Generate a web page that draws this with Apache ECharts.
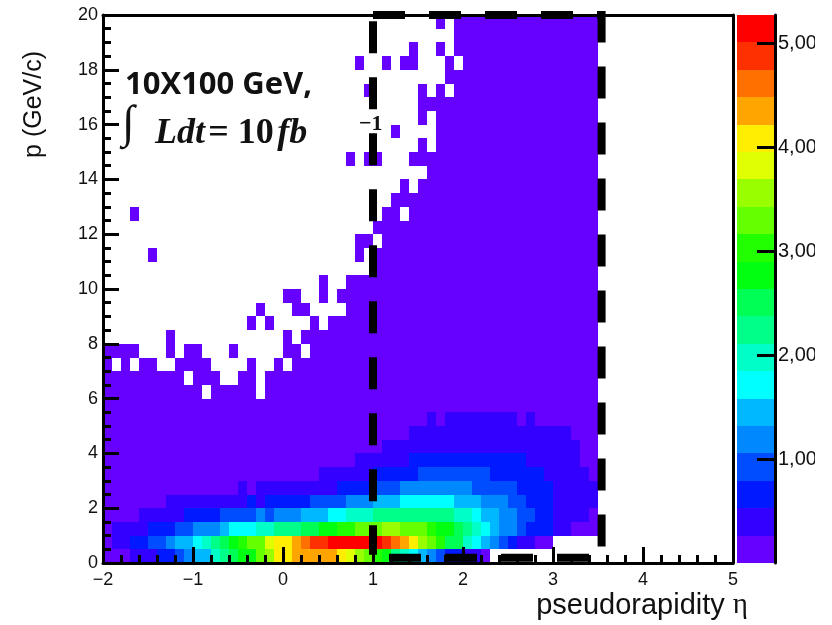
<!DOCTYPE html>
<html><head><meta charset="utf-8">
<style>html,body{margin:0;padding:0;background:#fff}#c{width:832px;height:625px}</style>
<script src="https://cdn.jsdelivr.net/npm/echarts@6/dist/echarts.min.js"></script>
</head><body><div id="c"></div>
<script>
// colour-bin level (base 36: 0 empty, 1..9, a=10 .. k=20) per eta bin; first entry is p 0-0.5 GeV/c
const levelRows = [
"1112223345 6689abbdeg ghhhhhgfed cb98765433 2210000000 00000",
"1223344566 789abcddfg ghijjkkkkk kjihgedcaa 8765432211 00000",
"1222233344 5556777889 99aabbccdd deedddcbba 9876554333 22111",
"1111222223 3334444545 5566677888 9999999998 8766554433 22221",
"1111111222 2222223233 3334444555 6667777776 6655544333 22222",
"1111111111 1111121222 2222223333 4445555555 5444443333 22222",
"1111111111 1111111111 1111222222 3333344444 4443333332 22221",
"1111111111 1111111111 1111111122 2222333333 3333333222 22211",
"1111111111 1111111111 1111111111 1222222222 2222222222 22211",
"1111111111 1111111111 1111111111 1111222222 2222222222 22111",
"1111111111 1111111111 1111111111 1111112122 2222221211 11111",
"1111111111 1111111111 1111111111 1111111111 1111111111 11111",
"1111111111 1011111011 1111111111 1111111111 1111111111 11111",
"1111111110 1110011011 1111111111 1111111111 1111111111 11111",
"1010110011 1100001001 0111111111 1111111111 1111111111 11111",
"1111000101 1000100000 1101111111 1111111111 1111111111 11111",
"0000000100 0000000000 1011111111 1111111111 1111111111 11111",
"0000000000 0000001010 0001011111 1111111111 1111111111 11111",
"0000000000 0000000100 0110000111 1111111111 1111111111 11111",
"0000000000 0000000000 1100101111 1111111111 1111111111 11111",
"0000000000 0000000000 0000100111 1111111111 1111111111 11111",
"0000000000 0000000000 0000000000 1111111111 1111111111 11111",
"0000010000 0000000000 0000000010 1111111111 1111111111 11111",
"0000000000 0000000000 0000000011 0111111111 1111111111 11111",
"0000000000 0000000000 0000000000 1111111111 1111111111 11111",
"0001000000 0000000000 0000000000 0110111111 1111111111 11111",
"0000000000 0000000000 0000000000 0011111111 1111111111 11111",
"0000000000 0000000000 0000000000 0001011111 1111111111 11111",
"0000000000 0000000000 0000000000 0000001111 1111111111 11111",
"0000000000 0000000000 0000000101 1000111111 1111111111 11111",
"0000000000 0000000000 0000000000 0000010111 1111111111 11111",
"0000000000 0000000000 0000000000 0010000111 1111111111 11111",
"0000000000 0000000000 0000000000 0000010111 1111111111 11111",
"0000000000 0000000000 0000000000 0000011111 1111111111 11111",
"0000000000 0000000000 0000000001 0000010101 1111111111 11111",
"0000000000 0000000000 0000000000 0000000011 1111111111 11111",
"0000000000 0000000000 0000000010 0101100010 1111111111 11111",
"0000000000 0000000000 0000000000 0000100101 1111111111 11111",
"0000000000 0000000000 0000000000 0000000001 1111111111 11111",
"0000000000 0000000000 0000000000 0000000101 1111111111 11111"
];
const palette = ["#6600ff","#3300ff","#0019ff","#004cff","#0088ff","#00b8ff","#00ffff","#00ffc8","#00ff88","#00ff55",
                 "#00ff10","#22ff00","#66ff00","#99ff00","#e0ff00","#ffee00","#ffa500","#ff7000","#ff3000","#ff0000"];
const etaStart = -2, etaBin = 0.1, pBin = 0.5;
const countMax = 5270;
const colorTicks = [1000,2000,3000,4000,5000];
const boxEta = [1, 3.54, 3.54, 1];
const boxP = [20, 20, 0.19, 0.19];
const leftEta = [1, 1];
const leftP = [19.77, 0.3];

const step = countMax / palette.length;
const cells = [];
levelRows.forEach((row, r) => {
  Array.from(row.replace(/ /g,'')).forEach((c, i) => {
    const lv = parseInt(c, 36);
    if (lv > 0) cells.push([+(etaStart + i*etaBin).toFixed(2), +(etaStart + (i+1)*etaBin).toFixed(2), r*pBin, (r+1)*pBin, (lv-0.5)*step]);
  });
});
const barCells = palette.map((_, i) => [0, 1, i*step, (i+1)*step, (i+0.5)*step]);
function rectItem(params, api) {
  const a = api.coord([api.value(0), api.value(3)]);
  const b = api.coord([api.value(1), api.value(2)]);
  const x = Math.round(a[0]), y = Math.round(a[1]);
  const lvl = Math.min(palette.length-1, Math.floor(api.value(4)/step));
  return {type:'rect', shape:{x:x, y:y, width:Math.round(b[0])-x, height:Math.round(b[1])-y}, style:{fill:palette[lvl]}};
}
const font = '"Liberation Sans"';
const black = '#000';
const chart = echarts.init(document.getElementById('c'), null, {renderer:'canvas'});
chart.setOption({
  animation:false,
  backgroundColor:'#fff',
  grid:[{left:103,top:15,width:630,height:548},{left:737,top:15,width:38,height:548}],
  xAxis:[
    {type:'value',gridIndex:0,min:-2,max:5,interval:1,z:10,
     name:'pseudorapidity {e|η}',nameLocation:'end',nameGap:15,
     nameTextStyle:{fontFamily:font,fontSize:29,color:'#111',align:'right',verticalAlign:'top',padding:[28,0,0,0],
       rich:{e:{fontFamily:'"Liberation Serif"',fontSize:29,color:'#111'}}},
     axisLine:{show:true,onZero:false,lineStyle:{color:black,width:3}},
     axisTick:{show:true,inside:true,length:16,lineStyle:{color:black,width:3}},
     minorTick:{show:true,splitNumber:5,length:8,lineStyle:{color:black,width:3}},
     splitLine:{show:false},
     axisLabel:{fontFamily:font,fontSize:18,color:'#111',margin:8,formatter:v=>String(v).replace('-','\u2212')}},
    {type:'value',gridIndex:0,position:'top',min:-2,max:5,z:10,
     axisLine:{show:true,onZero:false,lineStyle:{color:black,width:3}},axisTick:{show:false},axisLabel:{show:false},splitLine:{show:false}},
    {type:'value',gridIndex:1,min:0,max:1,show:false}
  ],
  yAxis:[
    {type:'value',gridIndex:0,min:0,max:20,interval:2,z:10,
     name:'p (GeV/c)',nameLocation:'end',nameRotate:90,nameGap:-36,
     nameTextStyle:{fontFamily:font,fontSize:25,color:'#111',align:'right',verticalAlign:'bottom',padding:[0,0,56,0]},
     axisLine:{show:true,onZero:false,lineStyle:{color:black,width:3}},
     axisTick:{show:true,inside:true,length:16,lineStyle:{color:black,width:3}},
     minorTick:{show:true,splitNumber:4,length:8,lineStyle:{color:black,width:3}},
     splitLine:{show:false},
     axisLabel:{fontFamily:font,fontSize:18,color:'#111',margin:5}},
    {type:'value',gridIndex:0,position:'right',min:0,max:20,z:10,
     axisLine:{show:true,onZero:false,lineStyle:{color:black,width:3}},axisTick:{show:false},axisLabel:{show:false},splitLine:{show:false}},
    {type:'value',gridIndex:1,position:'right',min:0,max:countMax,z:10,
     axisLine:{show:true,onZero:false,lineStyle:{color:black,width:3}},
     axisTick:{show:true,inside:true,length:18,customValues:colorTicks,lineStyle:{color:black,width:3}},
     splitLine:{show:false},
     axisLabel:{fontFamily:font,fontSize:20,color:'#111',margin:3,customValues:colorTicks}}
  ],
  series:[
    {type:'custom',name:'yield',xAxisIndex:0,yAxisIndex:0,coordinateSystem:'cartesian2d',data:cells,renderItem:rectItem,
     encode:{x:[0,1],y:[2,3]},clip:false,silent:true,progressive:0,z:2},
    {type:'custom',name:'scale',xAxisIndex:2,yAxisIndex:2,coordinateSystem:'cartesian2d',data:barCells,renderItem:rectItem,
     encode:{x:[0,1],y:[2,3]},silent:true,z:2},
    {type:'line',name:'box',xAxisIndex:0,yAxisIndex:0,data:boxEta.map((v,i)=>[v,boxP[i]]),showSymbol:false,clip:false,silent:true,z:5,
     lineStyle:{color:black,width:8,type:[32,24],join:'miter',cap:'butt'}},
    {type:'line',name:'boxLeft',xAxisIndex:0,yAxisIndex:0,data:leftEta.map((v,i)=>[v,leftP[i]]),showSymbol:false,clip:false,silent:true,z:5,
     lineStyle:{color:black,width:8,type:[32,24],cap:'butt'}}
  ],
  graphic:[
    {type:'text',z:20,left:125,top:70,style:{text:'10X100 GeV,',font:'bold 31px "Open Sans"',fill:'#111'}},
    {type:'text',z:20,left:122,top:102,style:{text:'\u222B',font:'italic 46px "Liberation Serif"',fill:'#111'}},
    {type:'text',z:20,left:155,top:116,style:{
      text:'{i|Ldt} {r|= 10} {i|fb}',
      rich:{i:{font:'italic bold 36px "Liberation Serif"',fill:'#111'},r:{font:'bold 36px "Liberation Serif"',fill:'#111'}}}},
    {type:'text',z:20,left:359,top:113,style:{text:'\u22121',font:'bold 22px "Liberation Serif"',fill:'#111'}},
    {type:'rect',z:30,shape:{x:815,y:0,width:17,height:625},style:{fill:'#fff'}}
  ]
});
</script></body></html>
